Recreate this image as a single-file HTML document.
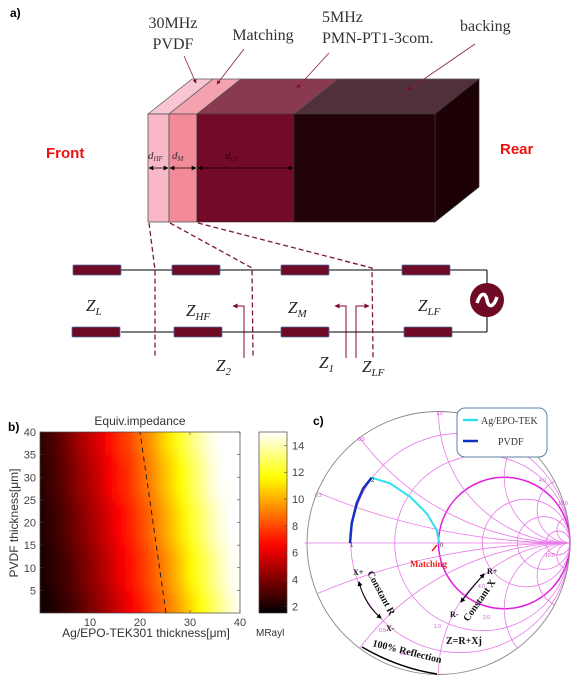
<!DOCTYPE html>
<html><head><meta charset="utf-8"><style>
html,body{margin:0;padding:0;background:#fff;width:575px;height:686px;overflow:hidden;position:relative}
svg{display:block;font-family:"Liberation Sans",sans-serif}
.serif{font-family:"Liberation Serif",serif}
</style></head><body>
<svg id="s" width="575" height="686" viewBox="0 0 575 686" xmlns="http://www.w3.org/2000/svg" style="position:absolute;left:0;top:0">
<defs>
<marker id="ah" viewBox="0 0 10 10" refX="9" refY="5" markerWidth="6" markerHeight="6" orient="auto-start-reverse"><path d="M0,0L10,5L0,10z" fill="#000"/></marker>
<marker id="ahr" viewBox="0 0 10 10" refX="9" refY="5" markerWidth="5" markerHeight="5" orient="auto"><path d="M0,0L10,5L0,10z" fill="#7a0a2a"/></marker>
<clipPath id="hc"><rect x="40" y="432" width="200" height="181"/></clipPath>
<filter id="vb" x="0" y="0" width="1" height="1"><feGaussianBlur stdDeviation="0.5 9"/></filter>
</defs>

<!-- PANEL A -->
<g>
<text x="10" y="17" font-size="12" font-weight="bold">a)</text>
<polygon points="148,114 169,114 213,79 192,79" fill="#f8c6d2" stroke="#555" stroke-width="0.7"/>
<polygon points="169,114 197,114 241,79 213,79" fill="#f4a2b0" stroke="#555" stroke-width="0.7"/>
<polygon points="197,114 294,114 338,79 241,79" fill="#8a3a50" stroke="#555" stroke-width="0.7"/>
<polygon points="294,114 435,114 479,79 338,79" fill="#50303a" stroke="#555" stroke-width="0.7"/>
<polygon points="435,114 479,79 479,187 435,222" fill="#1c0207" stroke="#333" stroke-width="0.7"/>
<rect x="148" y="114" width="21" height="108" fill="#f9b8c8" stroke="#555" stroke-width="0.8"/>
<rect x="169" y="114" width="28" height="108" fill="#f28a98" stroke="#555" stroke-width="0.8"/>
<rect x="197" y="114" width="97" height="108" fill="#730a27" stroke="#333" stroke-width="0.6"/>
<rect x="294" y="114" width="141" height="108" fill="#23030a" stroke="#333" stroke-width="0.6"/>
<g stroke="#000" stroke-width="0.8" marker-start="url(#ah)" marker-end="url(#ah)">
<line x1="149" y1="168" x2="168" y2="168"/><line x1="170" y1="168" x2="196" y2="168"/><line x1="198" y1="168" x2="293" y2="168"/>
</g>
<g class="serif" font-style="italic" fill="#333" font-size="11">
<text x="148" y="159">d<tspan font-size="7" dy="2">HF</tspan></text>
<text x="172" y="159">d<tspan font-size="7" dy="2">M</tspan></text>
<text x="225" y="159" fill="#2a0010">d<tspan font-size="7" dy="2">LF</tspan></text>
</g>
<g class="serif" font-size="16" fill="#333">
<text x="173" y="28" text-anchor="middle">30MHz</text>
<text x="173" y="49" text-anchor="middle">PVDF</text>
<text x="263" y="40" text-anchor="middle">Matching</text>
<text x="322" y="22">5MHz</text>
<text x="322" y="43">PMN-PT1-3com.</text>
<text x="460" y="31">backing</text>
</g>
<g stroke="#8a2040" stroke-width="0.8" marker-end="url(#ahr)">
<line x1="184" y1="56" x2="196" y2="83"/><line x1="244" y1="49" x2="217" y2="84"/><line x1="329" y1="53" x2="297" y2="88"/><line x1="475" y1="44" x2="408" y2="90"/>
</g>
<text x="46" y="158" font-size="15" font-weight="bold" fill="#f01010">Front</text>
<text x="500" y="154" font-size="15" font-weight="bold" fill="#f01010">Rear</text>
<g stroke="#333" stroke-width="1.3" fill="none">
<line x1="121" y1="270" x2="487" y2="270"/><line x1="121" y1="332" x2="487" y2="332"/>
<line x1="487" y1="270" x2="487" y2="332"/>
</g>
<g fill="#6e0a25" stroke="#5070a0" stroke-width="0.8">
<rect x="73" y="265" width="48" height="10" rx="1"/><rect x="172" y="265" width="48" height="10" rx="1"/><rect x="281" y="265" width="48" height="10" rx="1"/><rect x="402" y="265" width="48" height="10" rx="1"/>
<rect x="72" y="327" width="48" height="10" rx="1"/><rect x="174" y="327" width="48" height="10" rx="1"/><rect x="281" y="327" width="48" height="10" rx="1"/><rect x="404" y="327" width="48" height="10" rx="1"/>
</g>
<circle cx="487" cy="300" r="17" fill="#6e0a25"/>
<path d="M477,303 C481,291 486,293 487,300 C488,307 493,309 497,297" stroke="#fff" stroke-width="3.5" fill="none"/>
<g stroke="#7a1a35" stroke-width="1.3" stroke-dasharray="5,3" fill="none">
<polyline points="149,223 155,270 155,358"/><polyline points="170,223 252,268 253,358"/><polyline points="198,223 372,268 373,358"/>
</g>
<g stroke="#7a0a2a" stroke-width="1" fill="none">
<polyline points="244,358 244,306 233,306" marker-end="url(#ahr)"/>
<polyline points="346,358 346,306 335,306" marker-end="url(#ahr)"/>
<polyline points="356,358 356,306 369,306" marker-end="url(#ahr)"/>
</g>
<g class="serif" font-style="italic" font-size="17" fill="#222">
<text x="86" y="311">Z<tspan font-size="11" dy="4">L</tspan></text>
<text x="186" y="316">Z<tspan font-size="11" dy="4">HF</tspan></text>
<text x="288" y="313">Z<tspan font-size="11" dy="4">M</tspan></text>
<text x="418" y="311">Z<tspan font-size="11" dy="4">LF</tspan></text>
<text x="216" y="371">Z<tspan font-size="11" dy="4">2</tspan></text>
<text x="319" y="368">Z<tspan font-size="11" dy="4">1</tspan></text>
<text x="362" y="372">Z<tspan font-size="11" dy="4">LF</tspan></text>
</g>
</g>

<!-- PANEL B -->
<g id="pb">
<text x="8" y="431" font-size="12" font-weight="bold">b)</text>
<text x="140" y="425" font-size="12" fill="#333" text-anchor="middle">Equiv.impedance</text>
<text transform="translate(18,523) rotate(-90)" font-size="12" fill="#333" text-anchor="middle">PVDF thickness[μm]</text>
<text x="146" y="637" font-size="12" fill="#333" text-anchor="middle">Ag/EPO-TEK301 thickness[μm]</text>
<text x="256" y="636" font-size="10" fill="#333">MRayl</text>
<g clip-path="url(#hc)"><g id="hm" filter="url(#vb)"></g></g>
</g>

<!-- PANEL C -->
<g id="pc">
<text x="313" y="425" font-size="12" font-weight="bold">c)</text>
</g>
</svg>
<script>
// ---- heatmap data ----
var agThickness=[0,2,4,6,8,10,12,14,16,18,20,22,24,26,28,30,32,34,36,38,40];
var pvdfThickness=[0,10,20,30,40];
var imp0=[1.8,2.0,2.3,2.7,3.2,3.8,4.4,5.0,5.7,6.4,7.0,7.7,8.4,9.2,10.0,10.9,11.8,12.7,13.6,14.4,15.0];
var imp10=[1.9,2.2,2.6,3.0,3.6,4.2,4.8,5.5,6.2,6.8,7.5,8.2,8.9,9.7,10.6,11.5,12.4,13.3,14.1,14.8,15.0];
var imp20=[2.0,2.4,2.8,3.4,4.0,4.6,5.2,5.9,6.6,7.2,7.9,8.6,9.5,10.3,11.2,12.1,13.0,13.9,14.6,15.0,15.0];
var imp30=[2.2,2.6,3.1,3.7,4.4,5.0,5.6,6.4,7.1,7.6,8.4,9.1,10.0,10.8,11.7,12.6,13.5,14.4,14.9,15.0,15.0];
var imp40=[2.3,2.8,3.3,4.0,4.8,5.4,6.0,6.8,7.5,8.0,8.8,9.5,10.5,11.3,12.3,13.2,14.0,14.7,15.0,15.0,15.0];
var contourAg=[25.2,20.0];
var contourPvdf=[0,40];
var xTicks=[10,20,30,40];
var yTicks=[5,10,15,20,25,30,35,40];
var cbTicks=[2,4,6,8,10,12,14];
// ---- smith chart data ----
var rCircles=[0.2,0.5,1,2,4,10];
var xArcs=[0.2,0.5,1,2,4,10];
var pvdfRe=[-0.673,-0.660,-0.622,-0.572,-0.508];
var pvdfIm=[0,0.150,0.302,0.416,0.497];
var agRe=[-0.508,-0.369,-0.217,-0.090,-0.014,0.006];
var agIm=[0.497,0.454,0.352,0.226,0.099,0];

var NS="http://www.w3.org/2000/svg";
function mk(tag,attrs,parent){var e=document.createElementNS(NS,tag);for(var k in attrs)e.setAttribute(k,attrs[k]);(parent||document.getElementById('s')).appendChild(e);return e;}
var VMIN=1.5,VMAX=15;
function hot(v){var t=Math.max(0,Math.min(1,(v-VMIN)/(VMAX-VMIN)));var r=Math.min(1,t/0.375),g=Math.max(0,Math.min(1,(t-0.375)/0.375)),b=Math.max(0,Math.min(1,(t-0.75)/0.25));return 'rgb('+Math.round(r*255)+','+Math.round(g*255)+','+Math.round(b*255)+')';}
var X0=40,X1=240,Y0=613,Y1=432;
function sx(a){return X0+(a/40)*(X1-X0);}
function sy(p){return Y0-(p/40)*(Y0-Y1);}
var pb=document.getElementById('pb');
var hm=document.getElementById('hm');
var defs=document.querySelector('defs');
var rows=[imp0,imp10,imp20,imp30,imp40];
rows.forEach(function(row,i){
  var gid='rg'+i;
  var lg=mk('linearGradient',{id:gid,x1:'0',x2:'1',y1:'0',y2:'0'},defs);
  row.forEach(function(v,j){mk('stop',{offset:(agThickness[j]/40),'stop-color':hot(v)},lg);});
  var p=pvdfThickness[i];
  var lo=p-5,hi=p+5;
  if(i===0)lo=-6;
  if(i===rows.length-1)hi=46;
  var r=mk('rect',{x:sx(0)-2,y:sy(hi),width:sx(40)-sx(0)+4,height:sy(lo)-sy(hi)+0.5,fill:'url(#'+gid+')'},hm);
  
  
});
var cl=mk('polyline',{points:contourAg.map(function(a,i){return sx(a)+','+sy(contourPvdf[i]);}).join(' '),stroke:'#222','stroke-width':1,'stroke-dasharray':'5,4',fill:'none'},pb);


var fr=mk('rect',{x:X0,y:Y1,width:X1-X0,height:Y0-Y1,fill:'none',stroke:'#444','stroke-width':0.7},pb);


xTicks.forEach(function(t){
  mk('line',{x1:sx(t),x2:sx(t),y1:Y0,y2:Y0-3,stroke:'#444','stroke-width':0.6},pb);
  mk('line',{x1:sx(t),x2:sx(t),y1:Y1,y2:Y1+3,stroke:'#444','stroke-width':0.6},pb);
  var tx=mk('text',{x:sx(t),y:Y0+13,'font-size':'11',fill:'#444','text-anchor':'middle'},pb);tx.textContent=t;
  
  
});
yTicks.forEach(function(t){
  mk('line',{x1:X0,x2:X0+3,y1:sy(t),y2:sy(t),stroke:'#444','stroke-width':0.6},pb);
  mk('line',{x1:X1,x2:X1-3,y1:sy(t),y2:sy(t),stroke:'#444','stroke-width':0.6},pb);
  var tx=mk('text',{x:X0-4,y:sy(t)+4,'font-size':'11',fill:'#444','text-anchor':'end'},pb);tx.textContent=t;
  
  
});
var CB0=259,CB1=287;
function cy(v){return Y0-((v-VMIN)/(VMAX-VMIN))*(Y0-Y1);}
var cg=mk('linearGradient',{id:'cbg',x1:'0',x2:'0',y1:'1',y2:'0'},defs);
for(var k=0;k<=20;k++){var v=VMIN+(VMAX-VMIN)*k/20;mk('stop',{offset:k/20,'stop-color':hot(v)},cg);}
var cb=mk('rect',{x:CB0,y:Y1,width:CB1-CB0,height:Y0-Y1,fill:'url(#cbg)',stroke:'#444','stroke-width':0.7},pb);


cbTicks.forEach(function(t){
  mk('line',{x1:CB1,x2:CB1-3,y1:cy(t),y2:cy(t),stroke:'#444','stroke-width':0.6},pb);
  var tx=mk('text',{x:CB1+5,y:cy(t)+4,'font-size':'11',fill:'#444'},pb);tx.textContent=t;
  
  
});

// ---- Smith chart ----
var CX=438.5,CY=543,R=131.5;
function gx(re){return CX+re*R;}
function gy(im){return CY-im*R;}
var pc=document.getElementById('pc');
var grid=mk('g',{fill:'none',stroke:'#e878e8','stroke-width':0.8},pc);


mk('line',{x1:gx(-1.02),x2:gx(1),y1:CY,y2:CY},grid);
rCircles.forEach(function(r){
  var c=mk('circle',{cx:gx(r/(1+r)),cy:CY,r:R/(1+r)},grid);
  if(r===1){c.setAttribute('stroke','#e020e0');c.setAttribute('stroke-width','1.5');}
  
  
});
xArcs.forEach(function(x){
  [1,-1].forEach(function(sg){
    var ex=(x*x-1)/(x*x+1), ey=sg*2*x/(x*x+1);
    var d='M'+gx(1)+','+CY+' A'+(R/x)+','+(R/x)+' 0 0 '+(sg>0?1:0)+' '+gx(ex)+','+gy(ey);
    var c=mk('path',{d:d},grid);
    
    
  });
});
var oc=mk('circle',{cx:CX,cy:CY,r:R,fill:'none',stroke:'#888','stroke-width':0.9},pc);


function pts(re,im){return re.map(function(v,i){return gx(v)+','+gy(im[i]);}).join(' ');}
var lp=mk('polyline',{points:pts(pvdfRe,pvdfIm),fill:'none',stroke:'#1030c0','stroke-width':2.5,'stroke-linejoin':'round'},pc);


var la=mk('polyline',{points:pts(agRe,agIm),fill:'none',stroke:'#30e0f0','stroke-width':2,'stroke-linejoin':'round'},pc);


</script>
<svg width="575" height="686" style="position:absolute;left:0;top:0">
<defs><marker id="ak" viewBox="0 0 10 10" refX="8" refY="5" markerWidth="5" markerHeight="5" orient="auto-start-reverse"><path d="M0,0L10,5L0,10z" fill="#000"/></marker></defs>
<g font-family="Liberation Sans,sans-serif" font-size="5" fill="#d050d0">
<text x="436" y="415">1.0</text><text x="358" y="441">0.5</text><text x="315" y="497">0.2</text><text x="539" y="482">4.0</text><text x="558" y="505">10.0</text><text x="545" y="557">10.0</text><text x="434" y="628">1.0</text><text x="478" y="588">4.0</text><text x="483" y="619">2.0</text><text x="379" y="632">0.5</text><text x="400" y="655">0.2</text>
</g>
<g font-family="Liberation Sans,sans-serif" font-size="6" fill="#333"><text x="350" y="547">1</text><text x="371" y="482">2</text><text x="440" y="547">0</text></g>
<rect x="457" y="408" width="90" height="49" rx="8" fill="#fff" stroke="#6080a0" stroke-width="1"/>
<line x1="463" y1="420" x2="478" y2="420" stroke="#30e0f0" stroke-width="2.5"/>
<text x="481" y="424" font-family="Liberation Serif,serif" font-size="10" fill="#333">Ag/EPO-TEK</text>
<line x1="463" y1="441" x2="478" y2="441" stroke="#1030c0" stroke-width="2.5"/>
<text x="498" y="445" font-family="Liberation Serif,serif" font-size="10" fill="#333">PVDF</text>
<line x1="432" y1="551" x2="437" y2="545" stroke="#f02020" stroke-width="1.5"/>
<text x="410" y="567" font-family="Liberation Serif,serif" font-size="9" font-weight="bold" fill="#f02020">Matching</text>
<g font-family="Liberation Serif,serif" font-size="8" font-weight="bold" fill="#111">
<text x="353" y="575">X+</text><text x="386" y="631">X-</text><text x="487" y="574">R+</text><text x="450" y="617">R-</text>
<text transform="translate(367,573) rotate(62)" font-size="10">Constant R</text>
<text transform="translate(468,622) rotate(-55)" font-size="10">Constant X</text>
<text x="446" y="644" font-size="10">Z=R+Xj</text>
<text transform="translate(372,646) rotate(14)" font-size="10">100% Reflection</text>
</g>
<path d="M359,582 Q365,605 381,618" fill="none" stroke="#000" stroke-width="1" marker-start="url(#ak)" marker-end="url(#ak)"/>
<path d="M484,574 Q470,590 461,602" fill="none" stroke="#000" stroke-width="1" marker-start="url(#ak)" marker-end="url(#ak)"/>
<path d="M362,647 Q398,668 437,674" fill="none" stroke="#000" stroke-width="1.5"/>
</svg>
</body></html>
